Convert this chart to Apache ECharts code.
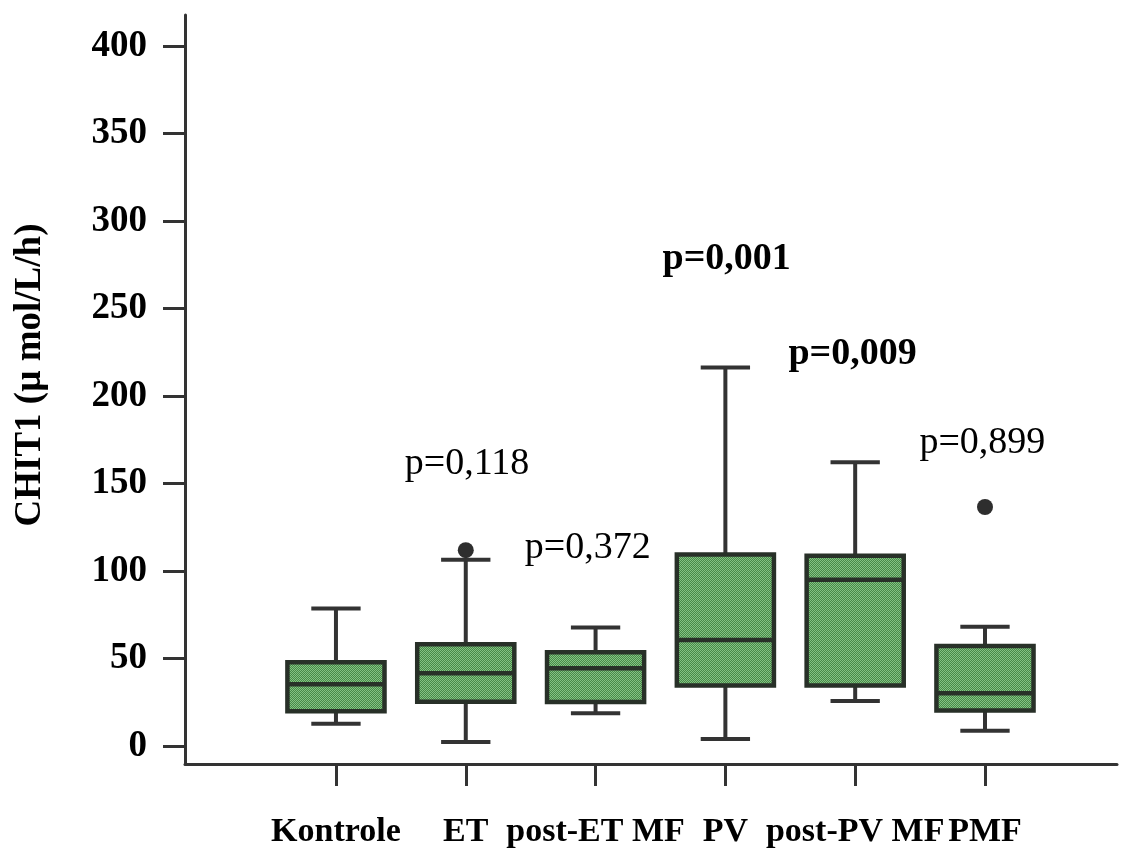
<!DOCTYPE html>
<html>
<head>
<meta charset="utf-8">
<script src="https://cdn.jsdelivr.net/npm/echarts@6/dist/echarts.min.js"></script>
<style>html,body{margin:0;padding:0;background:#fff}#c{width:1139px;height:849px}</style>
</head>
<body>
<div id="c"></div>
<script>
// ---- data ----
const categories = ['Kontrole', 'ET', 'post-ET MF', 'PV', 'post-PV MF', 'PMF'];
const whiskerLow  = [12.7, 2.3, 18.8, 4.0, 25.8, 8.7];
const q1          = [19.9, 25.3, 25.2, 34.6, 34.6, 20.3];
const median      = [35.3, 41.6, 44.4, 60.6, 95.0, 30.2];
const q3          = [47.9, 58.1, 53.6, 109.4, 108.7, 57.2];
const whiskerHigh = [78.6, 106.5, 67.8, 216.3, 162.2, 68.2];
const outlierCat  = [1, 5];
const outlierVal  = [111.9, 136.6];
const pLabels     = ['p=0,118', 'p=0,372', 'p=0,001', 'p=0,009', 'p=0,899'];
const pBold       = [false, false, true, true, false];
const pX          = [1.01, 1.94, 3.01, 3.98, 4.98];
const pY          = [161, 113, 278, 224, 173];
const yTicks      = [0, 50, 100, 150, 200, 250, 300, 350, 400];
const yTitle      = 'CHIT1 (\u00b5 mol/L/h)';

// ---- fill pattern ----
const pc = document.createElement('canvas');
pc.width = 2; pc.height = 2;
const g = pc.getContext('2d');
g.fillStyle = '#488a48'; g.fillRect(0, 0, 2, 2);
g.fillStyle = '#84c284'; g.fillRect(0, 0, 1, 1); g.fillRect(1, 1, 1, 1);
const boxFill = { image: pc, repeat: 'repeat' };

const boxData = categories.map((c, i) => [i, whiskerLow[i], q1[i], median[i], q3[i], whiskerHigh[i]]);
const BOX_HALF = 0.374, CAP_HALF = 0.19;
const FONT = '"Liberation Serif", "Times New Roman", serif';
const lineCol = '#333333';

const chart = echarts.init(document.getElementById('c'), null, { renderer: 'canvas' });
chart.setOption({
  animation: false,
  grid: { left: 185, right: 22, top: 15, bottom: 83, containLabel: false },
  xAxis: {
    type: 'value', min: -1.163, max: 6.017,
    splitLine: { show: false },
    axisLine: { show: true, onZero: false, lineStyle: { color: lineCol, width: 3 } },
    axisTick: { show: true, length: 22, customValues: [0, 1, 2, 3, 4, 5], lineStyle: { color: lineCol, width: 3 } },
    axisLabel: {
      customValues: [0, 1, 2, 3, 4, 5], margin: 51,
      formatter: v => categories[Math.round(v)],
      color: '#000', fontFamily: FONT, fontWeight: 'bold', fontSize: 34
    }
  },
  yAxis: {
    type: 'value', min: -10.26, max: 417.7,
    splitLine: { show: false },
    axisLine: { show: true, onZero: false, lineStyle: { color: lineCol, width: 3 } },
    axisTick: { show: true, length: 22, customValues: yTicks, lineStyle: { color: lineCol, width: 3 } },
    axisLabel: {
      customValues: yTicks, margin: 38,
      color: '#000', fontFamily: FONT, fontWeight: 'bold', fontSize: 37
    }
  },
  graphic: [{
    type: 'text', x: 30, y: 375, rotation: Math.PI / 2,
    style: { text: yTitle, font: 'bold 37px ' + FONT, fill: '#000', align: 'center', verticalAlign: 'middle' }
  }],
  series: [
    {
      type: 'custom',
      data: boxData,
      renderItem: (params, api) => {
        const x = api.value(0);
        const pLow = api.coord([x, api.value(1)]);
        const pQ1 = api.coord([x, api.value(2)]);
        const pMed = api.coord([x, api.value(3)]);
        const pQ3 = api.coord([x, api.value(4)]);
        const pHigh = api.coord([x, api.value(5)]);
        const left = api.coord([x - BOX_HALF, 0])[0];
        const right = api.coord([x + BOX_HALF, 0])[0];
        const cl = api.coord([x - CAP_HALF, 0])[0];
        const cr = api.coord([x + CAP_HALF, 0])[0];
        const ls = { stroke: lineCol, lineWidth: 4 };
        return {
          type: 'group',
          children: [
            { type: 'line', shape: { x1: pLow[0], y1: pLow[1], x2: pQ1[0], y2: pQ1[1] }, style: ls },
            { type: 'line', shape: { x1: pQ3[0], y1: pQ3[1], x2: pHigh[0], y2: pHigh[1] }, style: ls },
            { type: 'line', shape: { x1: cl, y1: pLow[1], x2: cr, y2: pLow[1] }, style: ls },
            { type: 'line', shape: { x1: cl, y1: pHigh[1], x2: cr, y2: pHigh[1] }, style: ls },
            { type: 'rect', shape: { x: left, y: pQ3[1], width: right - left, height: pQ1[1] - pQ3[1] },
              style: { fill: boxFill, stroke: '#283028', lineWidth: 4.5 } },
            { type: 'line', shape: { x1: left, y1: pMed[1], x2: right, y2: pMed[1] }, style: { stroke: '#283028', lineWidth: 4.5 } }
          ]
        };
      }
    },
    {
      type: 'scatter',
      data: outlierCat.map((c, i) => [c, outlierVal[i]]),
      symbol: 'circle', symbolSize: 16,
      itemStyle: { color: '#2e2e2e', opacity: 1 }
    },
    {
      type: 'scatter',
      data: pLabels.map((t, i) => ({
        value: [pX[i], pY[i]],
        label: { show: true, formatter: t, color: '#000', fontWeight: pBold[i] ? 'bold' : 'normal' }
      })),
      symbolSize: 0,
      label: { position: 'inside', color: '#000', textBorderWidth: 0, opacity: 1, fontFamily: FONT, fontSize: 38 },
      silent: true
    }
  ]
});
</script>
</body>
</html>
